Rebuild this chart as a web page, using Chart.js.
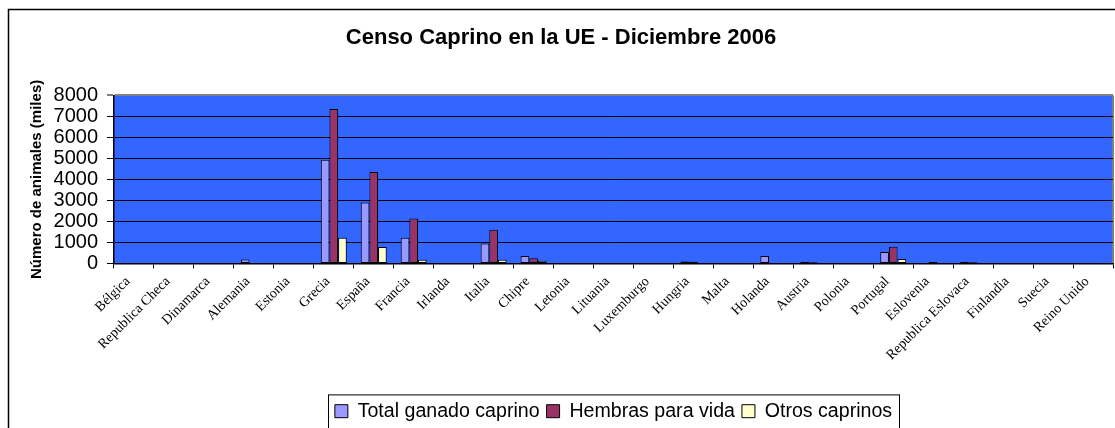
<!DOCTYPE html>
<html>
<head>
<meta charset="utf-8">
<title>Censo Caprino en la UE - Diciembre 2006</title>
<script src="https://cdn.jsdelivr.net/npm/chart.js@4.4.1/dist/chart.umd.min.js"></script>
<style>
    html, body { margin: 0; padding: 0; background: #fff; overflow: hidden; }
    canvas { display: block; }
</style>
</head>
<body>
<canvas id="censo" width="1115" height="440"></canvas>
<script>
"use strict";

// Paises (etiquetas del eje X)
var paises = [
    "Bélgica", "Republica Checa", "Dinamarca", "Alemania", "Estonia",
    "Grecia", "España", "Francia", "Irlanda", "Italia", "Chipre",
    "Letonia", "Lituania", "Luxemburgo", "Hungria", "Malta", "Holanda",
    "Austria", "Polonia", "Portugal", "Eslovenia", "Republica Eslovaca",
    "Finlandia", "Suecia", "Reino Unido"
];

// Miles de animales
var totalCaprino = [0, 0, 0, 190, 0, 4940, 2900, 1220, 0, 950, 350, 0, 0, 0, 90, 0, 350, 80, 0, 540, 0, 70, 0, 0, 0];
var hembrasVida  = [0, 0, 0, 0, 0, 7350, 4350, 2140, 0, 1600, 250, 0, 0, 0, 80, 0, 0, 60, 0, 790, 70, 60, 0, 0, 0];
var otrosCaprinos = [0, 0, 0, 0, 0, 1220, 780, 175, 0, 170, 130, 0, 0, 0, 0, 0, 0, 0, 0, 210, 0, 0, 0, 0, 0];

var ejeY = { min: 0, max: 8000, paso: 1000 };

/**
* Fondo azul del area de trazado, marco del grafico y caja de la leyenda.
*
* @property marcos
* @type Object
*/
var marcos = {
    id: "marcos",
    beforeDraw: function (chart) {
        var ctx = chart.ctx;
        var area = chart.chartArea;
        ctx.save();
        ctx.fillStyle = "#3366FF";
        ctx.fillRect(area.left, area.top, area.right - area.left, area.bottom - area.top);
        ctx.strokeStyle = "#808080";
        ctx.lineWidth = 2;
        ctx.beginPath();
        ctx.moveTo(area.right, area.bottom);
        ctx.lineTo(area.right, area.top);
        ctx.stroke();
        ctx.restore();
    },
    afterDraw: function (chart) {
        var ctx = chart.ctx;
        ctx.save();
        ctx.strokeStyle = "#000";
        ctx.lineWidth = 1.5;
        ctx.strokeRect(8.5, 9.5, 1130, 500);

        var boxes = chart.legend.legendHitBoxes;
        if (boxes.length) {
            var left = boxes[0].left - 7;
            var last = boxes[boxes.length - 1];
            var right = last.left + last.width + 7;
            ctx.lineWidth = 1;
            ctx.strokeRect(Math.round(left) + 0.5, chart.legend.top + 0.5, Math.round(right - left), 60);
        }
        ctx.restore();
    }
};

var config = {
    type: "bar",
    data: {
        labels: paises,
        datasets: [{
            label: "Total ganado caprino",
            data: totalCaprino,
            backgroundColor: "#9999FF"
        }, {
            label: "Hembras para vida",
            data: hembrasVida,
            backgroundColor: "#993366"
        }, {
            label: "Otros caprinos",
            data: otrosCaprinos,
            backgroundColor: "#FFFFCC"
        }]
    },
    plugins: [marcos],
    options: {
        responsive: false,
        animation: false,
        devicePixelRatio: 1,
        layout: {
            padding: { left: 9, top: 9, right: 2, bottom: 9 }
        },
        datasets: {
            bar: {
                borderColor: "#000",
                borderWidth: 1,
                borderSkipped: false,
                categoryPercentage: 0.65,
                barPercentage: 1
            }
        },
        scales: {
            x: {
                grid: {
                    drawOnChartArea: false,
                    drawTicks: true,
                    tickLength: 5,
                    color: "#000"
                },
                border: { color: "#000", width: 1.5 },
                ticks: {
                    autoSkip: false,
                    minRotation: 45,
                    maxRotation: 45,
                    padding: 5,
                    labelOffset: -6,
                    color: "#000",
                    font: { family: "'Liberation Serif', 'Times New Roman', serif", size: 14 }
                },
                afterFit: function (scale) { scale.height = 131; }
            },
            y: {
                min: ejeY.min,
                max: ejeY.max,
                grid: {
                    color: function (c) { return c.tick && c.tick.value === ejeY.max ? "#808080" : "#000"; },
                    lineWidth: function (c) { return c.tick && c.tick.value === ejeY.max ? 2 : 1; },
                    tickLength: 7
                },
                border: { color: "#000", width: 1.5 },
                ticks: {
                    stepSize: ejeY.paso,
                    autoSkip: false,
                    padding: 9,
                    color: "#000",
                    callback: function (value) { return String(value); },
                    font: { family: "'Liberation Sans', Arial, sans-serif", size: 20 }
                },
                title: {
                    display: true,
                    text: "Número de animales (miles)",
                    color: "#000",
                    padding: { top: 19, bottom: 0 },
                    font: { family: "'Liberation Sans', Arial, sans-serif", size: 15, weight: "bold" }
                },
                afterFit: function (scale) { scale.width = 105; }
            }
        },
        plugins: {
            title: {
                display: true,
                text: "Censo Caprino en la UE - Diciembre 2006",
                color: "#000",
                padding: { top: 16, bottom: 44 },
                font: { family: "'Liberation Sans', Arial, sans-serif", size: 22, weight: "bold" }
            },
            legend: {
                position: "bottom",
                fullSize: false,
                labels: {
                    boxWidth: 13,
                    boxHeight: 13,
                    padding: 7,
                    color: "#000",
                    font: { family: "'Liberation Sans', Arial, sans-serif", size: 19.6 }
                }
            },
            tooltip: { enabled: false }
        }
    }
};

var chart = new Chart(document.getElementById("censo"), config);
</script>
</body>
</html>
